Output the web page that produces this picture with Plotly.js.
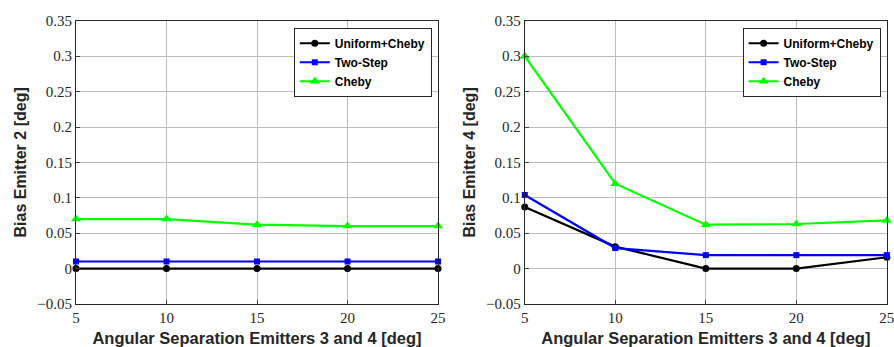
<!DOCTYPE html>
<html><head><meta charset="utf-8">
<script src="https://cdn.plot.ly/plotly-3.0.1.min.js"></script>
<style>html,body{margin:0;padding:0;background:#fff}#chart{width:894px;height:347px}</style>
</head><body><div id="chart"></div>
<script>
const separation = [5, 10, 15, 20, 25];
const seriesNames = ["Uniform+Cheby", "Two-Step", "Cheby"];
const emitter2Uniform = [0, 0, 0, 0, 0];
const emitter2TwoStep = [0.01, 0.01, 0.01, 0.01, 0.01];
const emitter2Cheby = [0.070, 0.070, 0.062, 0.060, 0.060];
const emitter4Uniform = [0.087, 0.031, 0.0, 0.0, 0.016];
const emitter4TwoStep = [0.104, 0.029, 0.019, 0.019, 0.019];
const emitter4Cheby = [0.300, 0.120, 0.062, 0.063, 0.068];
const yTicks = [-0.05, 0, 0.05, 0.1, 0.15, 0.2, 0.25, 0.3, 0.35];
const yTickText = ["\u22120.05", "0", "0.05", "0.1", "0.15", "0.2", "0.25", "0.3", "0.35"];

const colors = ["#000000", "#0000ff", "#00ff00"];
const symbols = ["circle", "square", "triangle-up"];
const sizes = [7, 6, 9];

function mk(y, i, xa, ya, leg) {
  return {x: separation, y: y, name: seriesNames[i], type: "scatter", mode: "lines+markers",
    xaxis: xa, yaxis: ya, legend: leg, cliponaxis: false,
    line: {color: colors[i], width: 2.2},
    marker: {color: colors[i], symbol: symbols[i], size: sizes[i]}};
}
const data = [
  mk(emitter2Uniform, 0, "x", "y", "legend"),
  mk(emitter2TwoStep, 1, "x", "y", "legend"),
  mk(emitter2Cheby, 2, "x", "y", "legend"),
  mk(emitter4Uniform, 0, "x2", "y2", "legend2"),
  mk(emitter4TwoStep, 1, "x2", "y2", "legend2"),
  mk(emitter4Cheby, 2, "x2", "y2", "legend2")
];
function tickFont() { return {family: "'Liberation Serif', 'Times New Roman', serif", size: 15, color: "#262626"}; }
function titleFont(s) { return {family: "'Liberation Sans', Arial, sans-serif", size: s, color: "#262626", weight: "bold"}; }
function xax(dom, anchor) {
  return {domain: dom, anchor: anchor, range: [5, 25], tickvals: separation, ticks: "inside", ticklen: 4,
    showline: true, linecolor: "#262626", linewidth: 1, mirror: true, ticklabeloverflow: "allow",
    showgrid: true, gridcolor: "#bdbdbd", gridwidth: 1, zeroline: false, tickfont: tickFont(),
    title: {text: "Angular Separation Emitters 3 and 4 [deg]", font: titleFont(16.5), standoff: 8}};
}
function yax(anchor, t) {
  return {domain: [0.124, 0.94], anchor: anchor, range: [-0.05, 0.35], tickvals: yTicks, ticktext: yTickText,
    ticks: "inside", ticklen: 4, showline: true, linecolor: "#262626", linewidth: 1, mirror: true,
    showgrid: true, gridcolor: "#bdbdbd", gridwidth: 1, zeroline: false, tickfont: tickFont(),
    title: {text: t, font: titleFont(16), standoff: 6}};
}
function legFont() { return {family: "'Liberation Sans', Arial, sans-serif", size: 12, color: "#000", weight: "bold"}; }
const layout = {
  width: 894, height: 347, margin: {l: 0, r: 0, t: 0, b: 0},
  paper_bgcolor: "#fff", plot_bgcolor: "#fff", showlegend: true,
  xaxis: xax([0.085, 0.49], "y"),
  yaxis: yax("x", "Bias Emitter 2 [deg]"),
  xaxis2: xax([0.587, 0.992], "y2"),
  yaxis2: yax("x2", "Bias Emitter 4 [deg]"),
  legend: {x: 0.483, y: 0.92, xanchor: "right", yanchor: "top", bgcolor: "#fff", bordercolor: "#262626",
    borderwidth: 1, font: legFont(), tracegroupgap: 0, itemwidth: 30},
  legend2: {x: 0.985, y: 0.92, xanchor: "right", yanchor: "top", bgcolor: "#fff", bordercolor: "#262626",
    borderwidth: 1, font: legFont(), tracegroupgap: 0, itemwidth: 30}
};
Plotly.newPlot("chart", data, layout, {staticPlot: true});
</script></body></html>
